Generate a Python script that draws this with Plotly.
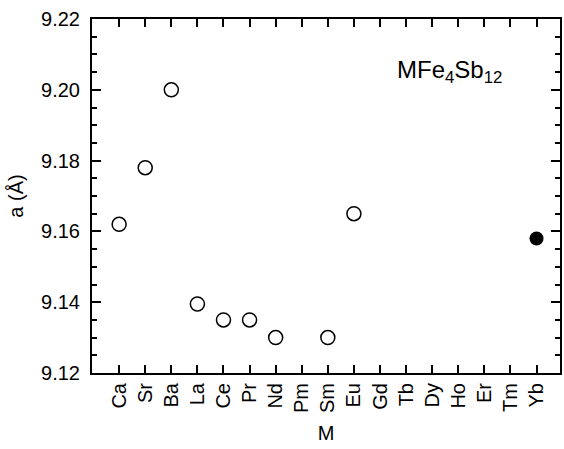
import plotly.graph_objects as go

elements = ["Ca", "Sr", "Ba", "La", "Ce", "Pr", "Nd", "Pm", "Sm", "Eu",
            "Gd", "Tb", "Dy", "Ho", "Er", "Tm", "Yb"]
open_m = ["Ca", "Sr", "Ba", "La", "Ce", "Pr", "Nd", "Sm", "Eu"]
open_a = [9.162, 9.178, 9.200, 9.1395, 9.135, 9.135, 9.130, 9.130, 9.165]
filled_m = ["Yb"]
filled_a = [9.158]

FONT = "Liberation Sans, Arial, Helvetica, sans-serif"
FS = 20

fig = go.Figure()
fig.add_trace(go.Scatter(x=open_m, y=open_a, mode="markers",
                         marker=dict(symbol="circle-open", size=14, color="black",
                                     line=dict(width=1.5, color="black")),
                         showlegend=False))
fig.add_trace(go.Scatter(x=filled_m, y=filled_a, mode="markers",
                         marker=dict(symbol="circle", size=14, color="black"),
                         showlegend=False))

fig.add_annotation(text="MFe<sub>4</sub>Sb<sub>12</sub>", xref="paper", yref="paper",
                   x=0.648, y=0.853, xanchor="left", yanchor="middle",
                   showarrow=False, font=dict(family=FONT, size=24, color="black"))

fig.update_layout(
    width=564, height=449,
    margin=dict(l=92, r=2, t=19, b=76, pad=0),
    paper_bgcolor="white", plot_bgcolor="white",
    font=dict(family=FONT, size=FS, color="black"),
    xaxis=dict(type="category", categoryorder="array", categoryarray=elements,
               range=[-1.04, 16.9], tickangle=-90,
               showline=True, linecolor="black", linewidth=2, mirror="ticks",
               ticks="inside", ticklen=8, tickwidth=2, tickcolor="#000000",
               showgrid=False, zeroline=False,
               title=dict(text="M", font=dict(family=FONT, size=FS), standoff=14)),
    yaxis=dict(range=[9.12, 9.22], dtick=0.02, tickformat=".2f",
               showline=True, linecolor="black", linewidth=2, mirror="ticks",
               ticks="inside", ticklen=9, tickwidth=2, tickcolor="#000000",
               minor=dict(ticks="inside", ticklen=5, dtick=0.005, tickwidth=2,
                          tickcolor="#000000"),
               showgrid=False, zeroline=False, ticklabelstandoff=6,
               title=dict(text="a (Å)", font=dict(family=FONT, size=FS), standoff=12)),
)

fig.write_html("out.html")
